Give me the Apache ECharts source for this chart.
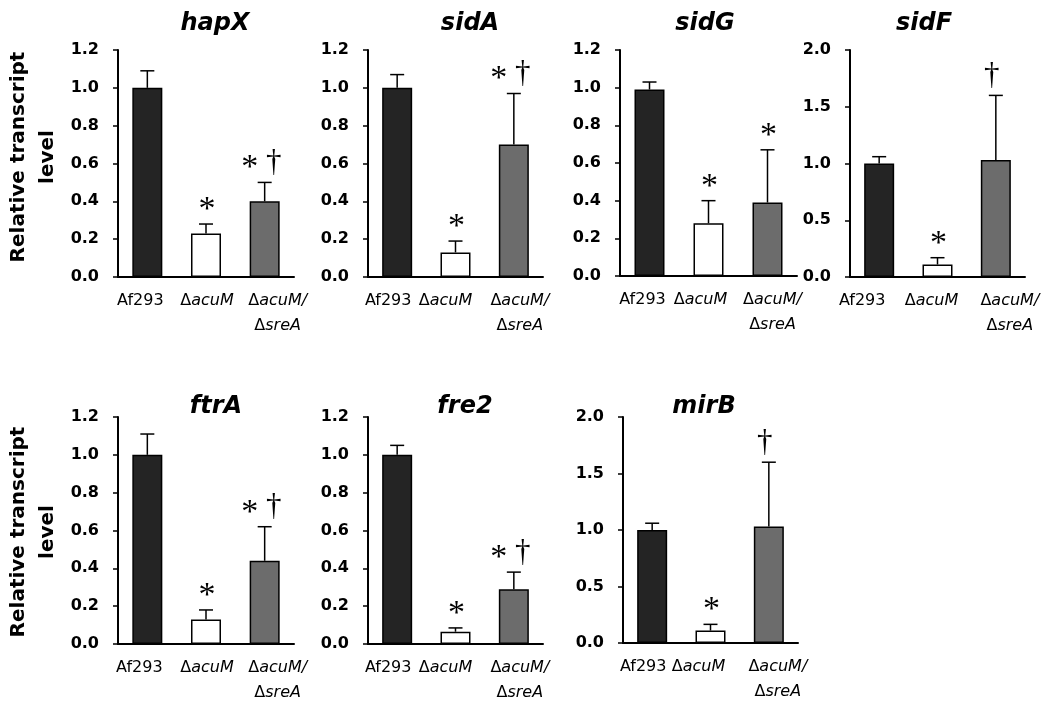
<!DOCTYPE html>
<html>
<head>
<meta charset="utf-8">
<script src="https://cdn.jsdelivr.net/npm/echarts@6/dist/echarts.min.js"></script>
<style>
html,body{margin:0;padding:0;background:#fff;}
#chart{width:1050px;height:712px;}
</style>
</head>
<body>
<div id="chart"></div>
<script>
// ---- data ----
const categories = ['Af293', 'ΔacuM', 'ΔacuM/ΔsreA'];
const genes = ['hapX', 'sidA', 'sidG', 'sidF', 'ftrA', 'fre2', 'mirB'];

const hapX_mean = [1.00, 0.23, 0.40];
const hapX_sd   = [0.09, 0.05, 0.10];
const hapX_sig  = ['', '*', '*†'];

const sidA_mean = [1.00, 0.13, 0.70];
const sidA_sd   = [0.07, 0.06, 0.27];
const sidA_sig  = ['', '*', '*†'];

const sidG_mean = [0.99, 0.28, 0.39];
const sidG_sd   = [0.04, 0.12, 0.28];
const sidG_sig  = ['', '*', '*'];

const sidF_mean = [1.00, 0.11, 1.03];
const sidF_sd   = [0.06, 0.06, 0.57];
const sidF_sig  = ['', '*', '†'];

const ftrA_mean = [1.00, 0.13, 0.44];
const ftrA_sd   = [0.11, 0.05, 0.18];
const ftrA_sig  = ['', '*', '*†'];

const fre2_mean = [1.00, 0.065, 0.29];
const fre2_sd   = [0.05, 0.02, 0.09];
const fre2_sig  = ['', '*', '*†'];

const mirB_mean = [1.00, 0.11, 1.03];
const mirB_sd   = [0.06, 0.055, 0.57];
const mirB_sig  = ['', '*', '†'];

const yMax      = [1.2, 1.2, 1.2, 2.0, 1.2, 1.2, 2.0];
const yInterval = [0.2, 0.2, 0.2, 0.5, 0.2, 0.2, 0.5];
const yAxisTitle = 'Relative transcript\nlevel';

// ---- layout ----
const grids = [
  {left: 118, top: 50, width: 176, height: 227},
  {left: 368, top: 50, width: 175, height: 227},
  {left: 620, top: 50, width: 177, height: 226},
  {left: 850, top: 50, width: 175, height: 227},
  {left: 118, top: 417, width: 176, height: 227},
  {left: 368, top: 417, width: 175, height: 227},
  {left: 623, top: 417, width: 175, height: 226}
];
const titlePos = [[215, 12], [470, 12], [705, 12], [924, 12], [216, 395], [465, 395], [704, 395]];
// horizontal shift (px) of each category label relative to its bar centre
const labelShift = [
  [-7, 1, 13], [-9, -10, 6], [-7, -8, 5], [-17, -6, 14],
  [-8, 1, 13], [-9, -10, 6], [-9, -12, 9]
];
const barColors = ['#242424', '#ffffff', '#6c6c6c'];
const FONT = 'DejaVu Sans';
const SIGFONT = 'Liberation Serif';

const panels = [
  [hapX_mean, hapX_sd, hapX_sig],
  [sidA_mean, sidA_sd, sidA_sig],
  [sidG_mean, sidG_sd, sidG_sig],
  [sidF_mean, sidF_sd, sidF_sig],
  [ftrA_mean, ftrA_sd, ftrA_sig],
  [fre2_mean, fre2_sd, fre2_sig],
  [mirB_mean, mirB_sd, mirB_sig]
];

const rich = {
  n: {fontFamily: FONT, fontSize: 16, lineHeight: 25, color: '#000'},
  i: {fontFamily: FONT, fontSize: 16, lineHeight: 25, fontStyle: 'italic', color: '#000'}
};
function gapKey(w) {
  const key = 'g' + w;
  if (!rich[key]) rich[key] = {width: w, fontSize: 16, lineHeight: 25};
  return key;
}
function fmtCat(v, d) {
  const w = Math.round(Math.abs(d) * 2);
  const pre = (d > 0 && w) ? '{' + gapKey(w) + '| }' : '';
  const post = (d < 0 && w) ? '{' + gapKey(w) + '| }' : '';
  let lines;
  if (v.indexOf('Δ') < 0) {
    lines = ['{n|' + v + '}'];
  } else {
    const parts = v.split('/');
    lines = parts.map((p, k) => '{n|Δ}{i|' + p.slice(1) + (k < parts.length - 1 ? '/' : '') + '}');
  }
  return lines.map(l => pre + l + post).join('\n');
}
labelShift.forEach(r => r.forEach(d => { const w = Math.round(Math.abs(d) * 2); if (w) gapKey(w); }));

const option = {
  backgroundColor: '#fff',
  animation: false,
  title: genes.map((g, i) => ({
    text: g, left: titlePos[i][0], top: titlePos[i][1], textAlign: 'center', padding: 0,
    textStyle: {fontFamily: FONT, fontSize: 24, fontWeight: 'bold', fontStyle: 'italic', color: '#000'}
  })),
  grid: grids.map(g => Object.assign({containLabel: false}, g)),
  xAxis: grids.map((g, i) => ({
    type: 'category', gridIndex: i, data: categories,
    axisLine: {lineStyle: {color: '#000', width: 2}},
    axisTick: {show: false},
    axisLabel: {
      interval: 0, margin: 11, color: '#000',
      formatter: (v, idx) => fmtCat(v, labelShift[i][idx]),
      rich: rich
    }
  })),
  yAxis: grids.map((g, i) => ({
    type: 'value', gridIndex: i, min: 0, max: yMax[i], interval: yInterval[i],
    axisLine: {show: true, lineStyle: {color: '#000', width: 2}},
    axisTick: {show: true, inside: false, length: 5, lineStyle: {color: '#000', width: 1.5}},
    splitLine: {show: false},
    axisLabel: {
      margin: 19, color: '#000', fontFamily: FONT, fontSize: 16, fontWeight: 'bold',
      formatter: v => v.toFixed(1)
    }
  })),
  graphic: [
    {type: 'text', x: 33, y: 157, rotation: Math.PI / 2,
      style: {text: yAxisTitle, fontFamily: FONT, fontSize: 20, fontWeight: 'bold', lineHeight: 29,
        align: 'center', verticalAlign: 'middle', fill: '#000'}},
    {type: 'text', x: 33, y: 532, rotation: Math.PI / 2,
      style: {text: yAxisTitle, fontFamily: FONT, fontSize: 20, fontWeight: 'bold', lineHeight: 29,
        align: 'center', verticalAlign: 'middle', fill: '#000'}}
  ],
  series: []
};

panels.forEach((pd, i) => {
  const mean = pd[0], sd = pd[1], sig = pd[2];
  option.series.push({
    type: 'bar', xAxisIndex: i, yAxisIndex: i, barWidth: 30,
    data: mean.map((v, k) => ({value: v, itemStyle: {color: barColors[k], borderColor: '#000', borderWidth: 1.5}})),
    z: 2
  });
  option.series.push({
    type: 'custom', xAxisIndex: i, yAxisIndex: i, z: 3,
    data: mean.map((v, k) => [k, v, sd[k]]),
    renderItem: (params, api) => {
      const x = api.value(0), m = api.value(1), s = api.value(2);
      const p0 = api.coord([x, m]);
      const p1 = api.coord([x, m + s]);
      const hw = 7;
      return {type: 'group', children: [
        {type: 'line', shape: {x1: p0[0], y1: p0[1], x2: p1[0], y2: p1[1]}, style: {stroke: '#000', lineWidth: 1.5}},
        {type: 'line', shape: {x1: p1[0] - hw, y1: p1[1], x2: p1[0] + hw, y2: p1[1]}, style: {stroke: '#000', lineWidth: 1.5}}
      ]};
    }
  });
  option.series.push({
    type: 'custom', xAxisIndex: i, yAxisIndex: i, z: 4,
    data: mean.map((v, k) => [k, v + sd[k]]),
    renderItem: (params, api) => {
      const k = params.dataIndex;
      const s = sig[k];
      if (!s) return null;
      const p = api.coord([api.value(0), api.value(1)]);
      const kids = [];
      const hasStar = s.indexOf('*') >= 0, hasDag = s.indexOf('†') >= 0;
      const both = hasStar && hasDag;
      if (hasStar) {
        kids.push({type: 'text', x: p[0] + (both ? -15 : 1), y: p[1] - 14,
          style: {text: '*', fontFamily: SIGFONT, fontSize: 34, align: 'center', verticalAlign: 'middle', fill: '#000'}});
      }
      if (hasDag) {
        kids.push({type: 'text', x: p[0] + (both ? 9 : -4), y: p[1] - 4,
          style: {text: '†', fontFamily: SIGFONT, fontSize: 31, align: 'center', verticalAlign: 'bottom', fill: '#000'}});
      }
      return {type: 'group', children: kids};
    }
  });
});

const chart = echarts.init(document.getElementById('chart'), null, {renderer: 'canvas'});
chart.setOption(option);
</script>
</body>
</html>
